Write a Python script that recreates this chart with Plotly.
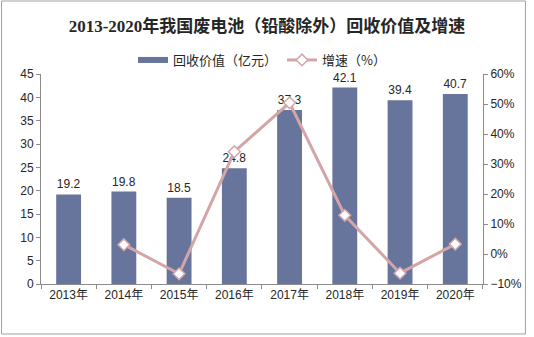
import plotly.graph_objects as go

years = ["2013年", "2014年", "2015年", "2016年", "2017年", "2018年", "2019年", "2020年"]
value = [19.2, 19.8, 18.5, 24.8, 37.3, 42.1, 39.4, 40.7]
growth_years = ["2014年", "2015年", "2016年", "2017年", "2018年", "2019年", "2020年"]
growth = [3.1, -6.6, 34.1, 50.4, 12.9, -6.4, 3.3]

BAR_COLOR = "#67749B"
LINE_COLOR = "#D4A5A7"

W, H = 534, 337
L, R, T, B = 41, 45, 74, 53
pw, ph = W - L - R, H - T - B

def px_x(p):
    return (p - L) / pw

def px_y(p):
    return (H - B - p) / ph

fig = go.Figure()
fig.add_trace(go.Bar(
    x=years, y=value, name="回收价值（亿元）", showlegend=False,
    marker=dict(color=BAR_COLOR, line=dict(width=0)),
    text=[f"{v:.1f}" for v in value], textposition="outside",
    textfont=dict(size=12, color="#262626", family="Liberation Sans"),
    cliponaxis=False,
))
# legend key for the bars, drawn as a thick horizontal swatch
fig.add_trace(go.Scatter(
    x=[None], y=[None], name="回收价值（亿元）", mode="lines",
    line=dict(color=BAR_COLOR, width=6), hoverinfo="skip",
))
fig.add_trace(go.Scatter(
    x=growth_years, y=growth, name="增速（%）", yaxis="y2",
    mode="lines+markers",
    line=dict(color=LINE_COLOR, width=3),
    marker=dict(symbol="diamond", size=9, color="white",
                line=dict(color=LINE_COLOR, width=1.5)),
))

fig.update_layout(
    width=W, height=H,
    margin=dict(l=L, r=R, t=T, b=B),
    paper_bgcolor="white", plot_bgcolor="white",
    font=dict(family="Liberation Sans, Noto Sans CJK SC", size=12, color="#262626"),
    title=dict(text="<b>2013-2020年我国废电池（铅酸除外）回收价值及增速</b>",
               x=0.5, xanchor="center", y=1 - 26 / H, yanchor="middle",
               font=dict(family="Liberation Serif, Noto Sans CJK SC", size=17, color="#262626")),
    legend=dict(orientation="h", x=0.5, xanchor="center", y=px_y(60), yanchor="middle",
                font=dict(size=13, family="Noto Sans CJK SC"), bgcolor="rgba(0,0,0,0)",
                itemwidth=30, traceorder="normal"),
    bargap=0.55,
    xaxis=dict(showline=True, linecolor="#8c8c8c", linewidth=1,
               ticks="outside", tickson="boundaries", ticklen=4, tickcolor="#8c8c8c",
               tickfont=dict(size=12), showgrid=False, fixedrange=True),
    yaxis=dict(range=[0, 45], dtick=5, showline=True, linecolor="#8c8c8c", linewidth=1,
               ticks="outside", ticklen=4, tickcolor="#8c8c8c", showgrid=False,
               zeroline=False, tickfont=dict(size=12)),
    yaxis2=dict(range=[-10, 60], dtick=10, overlaying="y", side="right",
                ticksuffix="%", showline=True, linecolor="#8c8c8c", linewidth=1,
                ticks="outside", ticklen=4, tickcolor="#8c8c8c", showgrid=False,
                zeroline=False, tickfont=dict(size=12)),
    shapes=[dict(type="rect", xref="paper", yref="paper",
                 x0=px_x(1), x1=px_x(532), y0=px_y(334), y1=px_y(1),
                 line=dict(color="#a0a0a0", width=1), fillcolor="rgba(0,0,0,0)", layer="below")],
)

fig.write_html("out.html")
